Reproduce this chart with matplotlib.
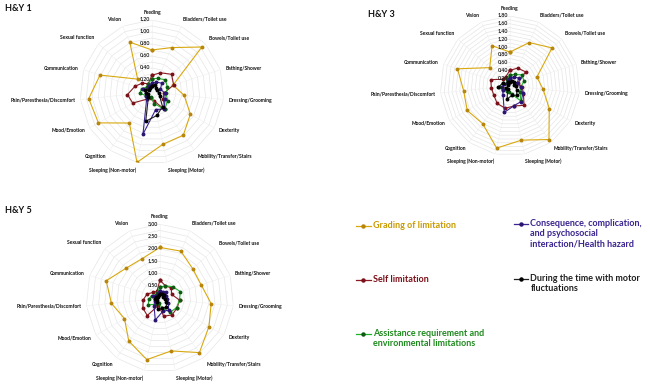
import numpy as np
import matplotlib
matplotlib.use('Agg')
import matplotlib.pyplot as plt
from matplotlib.transforms import offset_copy

plt.rcParams['font.family'] = ['Lato', 'DejaVu Sans']

categories = ['Feeding', 'Bladders/Toilet use', 'Bowels/Toilet use', 'Bathing/Shower',
              'Dressing/Grooming', 'Dexterity', 'Mobility/Transfer/Stairs', 'Sleeping (Motor)',
              'Sleeping (Non-motor)', 'Cognition', 'Mood/Emotion', 'Pain/Paresthesia/Discomfort',
              'Communication', 'Sexual function', 'Vision']

# H&Y 1
grading1 = [0.70, 0.81, 1.12, 0.37, 0.54, 0.74, 0.89, 0.89, 1.20, 0.64, 1.03, 1.06, 0.91, 0.32, 0.91]
self1 = [0.28, 0.35, 0.44, 0.38, 0.20, 0.22, 0.36, 0.15, 0.10, 0.15, 0.37, 0.41, 0.30, 0.22, 0.15]
assist1 = [0.22, 0.25, 0.30, 0.27, 0.24, 0.30, 0.36, 0.20, 0.08, 0.10, 0.12, 0.20, 0.18, 0.12, 0.15]
conseq1 = [0.15, 0.18, 0.22, 0.15, 0.22, 0.25, 0.35, 0.30, 0.72, 0.15, 0.12, 0.10, 0.15, 0.08, 0.10]
fluct1 = [0.10, 0.12, 0.10, 0.08, 0.12, 0.15, 0.30, 0.40, 0.50, 0.10, 0.08, 0.10, 0.12, 0.06, 0.08]

# H&Y 3
grading3 = [0.87, 1.22, 1.46, 0.73, 0.86, 1.17, 1.71, 1.43, 1.64, 1.20, 1.27, 1.20, 1.42, 0.70, 1.13]
self3 = [0.40, 0.50, 0.54, 0.22, 0.32, 0.40, 0.62, 0.53, 0.59, 0.56, 0.48, 0.48, 0.52, 0.25, 0.26]
assist3 = [0.28, 0.32, 0.42, 0.38, 0.28, 0.30, 0.48, 0.22, 0.15, 0.15, 0.22, 0.28, 0.20, 0.10, 0.18]
conseq3 = [0.20, 0.25, 0.30, 0.20, 0.28, 0.38, 0.50, 0.52, 0.70, 0.30, 0.22, 0.20, 0.15, 0.08, 0.15]
fluct3 = [0.10, 0.15, 0.15, 0.10, 0.15, 0.20, 0.30, 0.25, 0.35, 0.10, 0.12, 0.30, 0.20, 0.05, 0.10]

# H&Y 5
grading5 = [2.06, 2.09, 1.79, 1.76, 2.09, 2.30, 2.73, 2.19, 2.55, 2.15, 1.66, 1.98, 2.29, 1.83, 1.76]
self5 = [0.73, 0.55, 0.62, 0.50, 0.81, 0.80, 0.84, 0.75, 0.30, 0.87, 0.80, 0.68, 0.55, 0.35, 0.30]
assist5 = [0.45, 0.55, 0.70, 0.87, 0.80, 0.78, 0.70, 0.40, 0.20, 0.30, 0.55, 0.45, 0.35, 0.20, 0.25]
conseq5 = [0.30, 0.28, 0.35, 0.25, 0.30, 0.40, 0.60, 0.55, 0.91, 0.40, 0.25, 0.20, 0.30, 0.15, 0.20]
fluct5 = [0.15, 0.20, 0.20, 0.15, 0.20, 0.30, 0.45, 0.40, 0.45, 0.20, 0.15, 0.20, 0.15, 0.10, 0.12]

series_names = ['Grading of limitation', 'Self limitation',
                'Assistance requirement and\nenvironmental limitations',
                'Consequence, complication,\nand psychosocial\ninteraction/Health hazard',
                'During the time with motor\nfluctuations']
line_colors = ['#D9A80F', '#8B1C24', '#22B02A', '#3A2490', '#202020']
marker_colors = ['#B8860B', '#7A1018', '#0E5A12', '#2A1470', '#000000']
text_colors = ['#C99A00', '#7A1018', '#1E8A1E', '#3A2490', '#202020']

fig = plt.figure(figsize=(6.5, 3.84), dpi=100)

angles = np.linspace(0, 2 * np.pi, len(categories), endpoint=False)


def radar(rect, title, title_pos, data, rmax, step):
    ax = fig.add_axes(rect, polar=True)
    ax.set_theta_zero_location('N')
    ax.set_theta_direction(-1)
    ax.set_ylim(0, rmax)
    ax.grid(False)
    ax.spines['polar'].set_visible(False)
    ax.set_xticks([])
    ax.set_yticks([])
    ax.patch.set_alpha(0)

    closed = np.append(angles, angles[0])
    # polygon gridlines
    rings = np.arange(step / 2, rmax + 1e-9, step / 2)
    for r in rings:
        ax.plot(closed, [r] * len(closed), color='#E6E6E6', lw=0.5, zorder=1)
    for a in angles:
        ax.plot([a, a], [0, rmax], color='#EFEFEF', lw=0.4, zorder=1)

    # value labels
    tr = offset_copy(ax.transData, fig=fig, x=-1.5, y=0, units='points')
    for v in np.arange(step, rmax + 1e-9, step):
        ax.text(0, v, f'{v:.2f}', transform=tr, fontsize=3.8, fontweight='bold',
                ha='right', va='center', color='#222222', zorder=5)

    # category labels
    for a, name in zip(angles, categories):
        s, c = np.sin(a), np.cos(a)
        if abs(s) < 0.1:
            ha = 'center'
        elif s > 0:
            ha = 'left'
        else:
            ha = 'right'
        va = 'bottom' if c > 0.6 else ('top' if c < -0.6 else 'center')
        ax.text(a, rmax * 1.07, name, fontsize=3.6, fontweight='bold', ha=ha, va=va,
                color='#111111')

    for vals, lc, mc in zip(data, line_colors, marker_colors):
        v = np.append(vals, vals[0])
        ax.plot(closed, v, color=lc, lw=0.8, marker='o', markersize=1.8,
                markerfacecolor=mc, markeredgecolor=mc, zorder=3)

    fig.text(title_pos[0], title_pos[1], title, fontsize=6.5, fontweight='bold',
             ha='left', va='center', color='#111111')
    return ax


radar([0.123, 0.573, 0.2215, 0.375], 'H&Y 1', (0.008, 0.977),
      [grading1, self1, assist1, conseq1, fluct1], 1.2, 0.2)
radar([0.677, 0.594, 0.215, 0.365], 'H&Y 3', (0.566, 0.963),
      [grading3, self3, assist3, conseq3, fluct3], 1.8, 0.2)
radar([0.132, 0.031, 0.228, 0.385], 'H&Y 5', (0.008, 0.453),
      [grading5, self5, assist5, conseq5, fluct5], 3.0, 0.5)

# legend drawn as figure-level entries
leg_pos = [(0.548, 0.411), (0.548, 0.271), (0.548, 0.13), (0.79, 0.416), (0.79, 0.273)]
for (x, y), name, lc, mc, tc in zip(leg_pos, series_names, line_colors, marker_colors, text_colors):
    fig.add_artist(plt.Line2D([x, x + 0.022], [y, y], color=lc, lw=0.9,
                              transform=fig.transFigure))
    fig.add_artist(plt.Line2D([x + 0.011], [y], marker='o', markersize=2.2,
                              color=mc, transform=fig.transFigure))
    fig.text(x + 0.026, y + 0.014, name, fontsize=6.5, fontweight='bold', color=tc,
             ha='left', va='top', linespacing=1.2)

fig.savefig('out.png', dpi=100)
